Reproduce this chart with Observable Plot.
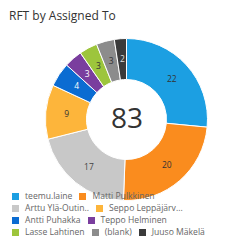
<!DOCTYPE html>
<html><head><meta charset="utf-8">
<script src="https://cdn.jsdelivr.net/npm/d3@7"></script>
<script src="https://cdn.jsdelivr.net/npm/@observablehq/plot@0.6"></script>
<style>
body{margin:0;background:#fff;font-family:"Open Sans","Noto Sans",sans-serif}
#wrap{position:relative;width:250px;height:249px;overflow:hidden;background:#fff}
#title{position:absolute;left:9px;top:7px;font-size:12px;color:#333;z-index:2}
#legend{position:absolute;left:12px;top:190px;font-size:8.6px;color:#666;z-index:2}
.row{display:flex;align-items:center;height:12px;white-space:nowrap}
.item{display:flex;align-items:center;margin-right:7px}
.sw{width:7px;height:7px;margin-right:6px;flex:none}
#chart svg{position:absolute;left:0;top:0}
</style></head>
<body><div id="wrap"><div id="title">RFT by Assigned To</div><div id="chart"></div><div id="legend"></div></div>
<script>
const names = ["teemu.laine","Matti Pulkkinen","Arttu Ylä-Outinen","Seppo Leppäjärvi","Antti Puhakka","Teppo Helminen","Lasse Lahtinen","(blank)","Juuso Mäkelä"];
const legendLabels = ["teemu.laine","Matti Pulkkinen","Arttu Ylä-Outin..","Seppo Leppäjärv...","Antti Puhakka","Teppo Helminen","Lasse Lahtinen","(blank)","Juuso Mäkelä"];
const values = [22,20,17,9,4,3,3,3,2];
const colors = ["#1C9FE2","#FA8C1E","#C8C8C8","#FDB53B","#0B6CD2","#7A3E9E","#9DC53C","#8C8C8C","#3B3B3B"];
const labelColors = ["#333","#333","#444","#333","#fff","#fff","#333","#333","#ddd"];
const legendRows = [2,2,2,3];

const total = d3.sum(values);
const rInner = 0.494;
const pie = d3.pie().sort(null).value(d => d)(values);
const data = pie.map((p, i) => {
  const mid = (p.startAngle + p.endAngle) / 2, r = (1 + rInner) / 2;
  return {name: names[i], value: values[i], start: p.startAngle, end: p.endAngle,
          lx: r * Math.sin(mid), ly: r * Math.cos(mid), fill: colors[i], lc: labelColors[i]};
});

function arcs(index, scales) {
  const cx = scales.x(0), cy = scales.y(0), R = scales.x(1) - cx;
  const arc = d3.arc().innerRadius(R * rInner).outerRadius(R);
  const g = d3.create("svg:g").attr("transform", `translate(${cx},${cy})`);
  g.selectAll("path").data(data).join("path")
    .attr("d", d => arc({startAngle: d.start, endAngle: d.end}))
    .attr("fill", d => d.fill).attr("stroke", "#fff").attr("stroke-width", 1);
  return g.node();
}

const chart = Plot.plot({
  width: 250, height: 249,
  marginLeft: 45.5, marginRight: 42.5, marginTop: 38.5, marginBottom: 48.5,
  x: {domain: [-1, 1], axis: null},
  y: {domain: [-1, 1], axis: null},
  color: {type: "identity"},
  style: {fontFamily: "'Open Sans','Noto Sans',sans-serif", background: "transparent"},
  marks: [
    arcs,
    Plot.text(data, {x: "lx", y: "ly", text: d => String(d.value), fill: "lc", fontSize: 8.5}),
    Plot.text([total], {x: () => 0, y: () => 0, text: d => String(d), fontSize: 28, fill: "#333", dy: -1})
  ]
});
document.getElementById("chart").appendChild(chart);

const legend = document.getElementById("legend");
let k = 0;
for (const n of legendRows) {
  const row = document.createElement("div"); row.className = "row";
  for (let j = 0; j < n; j++, k++) {
    const it = document.createElement("div"); it.className = "item";
    it.innerHTML = `<span class="sw" style="background:${colors[k]}"></span><span>${legendLabels[k]}</span>`;
    row.appendChild(it);
  }
  legend.appendChild(row);
}
</script></body></html>
